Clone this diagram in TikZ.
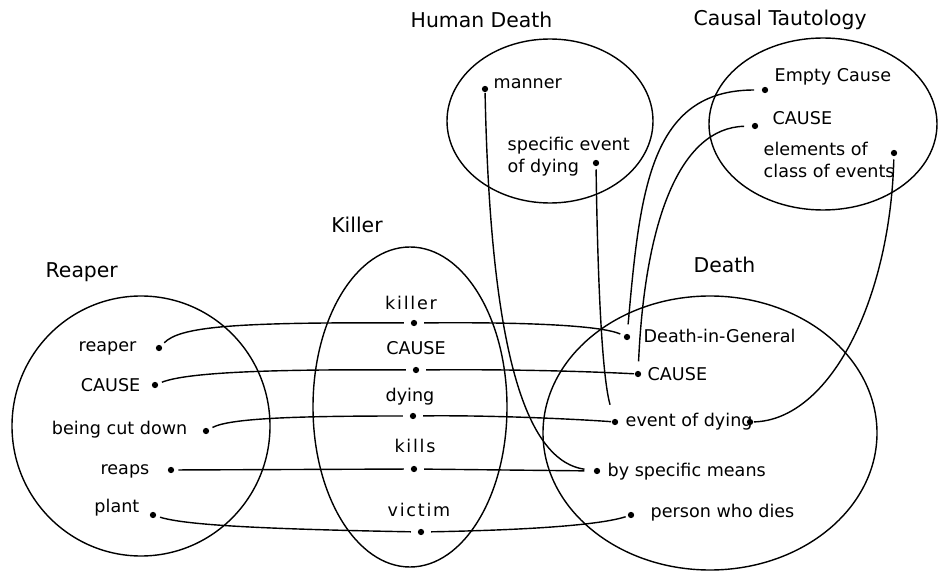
\documentclass[tikz,border=0pt]{standalone}
\usepackage{fontspec}
\setmainfont{DejaVu Sans}
\newfontfamily\spacedfont[LetterSpace=10]{DejaVu Sans}
\begin{document}
\begin{tikzpicture}[x=0.02cm, y=0.02cm, line width=0.8pt,
    dot/.style={circle, fill, inner sep=0pt, minimum size=3.6pt},
    lbl/.style={inner sep=0pt, font=\fontsize{10}{13}\selectfont},
    spaced/.style={inner sep=0pt, font=\fontsize{10}{13}\spacedfont},
    title/.style={inner sep=0pt, font=\fontsize{11.6}{14}\selectfont}]
    \useasboundingbox (0,0) rectangle (938,-571);
    % the five sets
    \draw (141,-426) ellipse (129 and 130);
    \draw (410,-407) ellipse (97 and 160);
    \draw (710,-433) ellipse (167 and 137);
    \draw (550,-121) ellipse (103 and 82);
    \draw (823,-124) ellipse (114 and 86);
    \node (tR) [title, anchor=base west] at (45,-277) {Reaper};
    \node (tK) [title, anchor=base] at (357,-233) {Killer};
    \node (tD) [title, anchor=base west] at (693,-273) {Death};
    \node (tH) [title, anchor=base west] at (410,-28) {Human Death};
    \node (tC) [title, anchor=base west] at (693,-26) {Causal Tautology};
    % elements
    \node (R1) [dot] at (159,-348) {};
    \node (R2) [dot] at (155,-385) {};
    \node (R3) [dot] at (206,-431) {};
    \node (R4) [dot] at (171,-470) {};
    \node (R5) [dot] at (153,-515) {};
    \node (K1) [dot] at (414,-323) {};
    \node (K2) [dot] at (416,-370) {};
    \node (K3) [dot] at (413,-416) {};
    \node (K4) [dot] at (414,-469) {};
    \node (K5) [dot] at (421,-532) {};
    \node (D1) [dot] at (627,-337) {};
    \node (D2) [dot] at (638,-374) {};
    \node (D3) [dot] at (615,-422) {};
    \node (D4) [dot] at (750,-422) {};
    \node (D5) [dot] at (597,-471) {};
    \node (D6) [dot] at (631,-515) {};
    \node (H1) [dot] at (485,-89) {};
    \node (H2) [dot] at (596,-163) {};
    \node (C1) [dot] at (765,-90) {};
    \node (C2) [dot] at (755,-126) {};
    \node (C3) [dot] at (894,-153) {};
    % labels
    \node (lR1) [lbl, anchor=base east] at (137,-352) {reaper};
    \node (lR2) [lbl, anchor=base east] at (141,-392) {CAUSE};
    \node (lR3) [lbl, anchor=base east] at (188,-435) {being cut down};
    \node (lR4) [lbl, anchor=base east] at (150,-475) {reaps};
    \node (lR5) [lbl, anchor=base east] at (140,-513) {plant};
    \node (lK1) [spaced, anchor=base] at (411,-310) {killer};
    \node (lK2) [lbl, anchor=base] at (416,-355) {CAUSE};
    \node (lK3) [lbl, anchor=base] at (410,-401) {dying};
    \node (lK4) [spaced, anchor=base] at (415,-453) {kills};
    \node (lK5) [spaced, anchor=base] at (419,-517) {victim};
    \node (lD1) [lbl, anchor=base west] at (643,-343) {Death-in-General};
    \node (lD2) [lbl, anchor=base west] at (647,-380) {CAUSE};
    \node (lD3) [lbl, anchor=base west] at (625,-426) {event of dying};
    \node (lD5) [lbl, anchor=base west] at (607,-477) {by specific means};
    \node (lD6) [lbl, anchor=base west] at (650,-518) {person who dies};
    \node (lH1) [lbl, anchor=base west] at (493,-89) {manner};
    \node (lH2) [lbl, anchor=base west, align=left] at (507,-173) {specific event\\of dying};
    \node (lC1) [lbl, anchor=base west] at (774,-82) {Empty Cause};
    \node (lC2) [lbl, anchor=base west] at (772,-125) {CAUSE};
    \node (lC3) [lbl, anchor=base west, align=left] at (763,-178) {elements of\\class of events};
    % mappings through Killer
    \draw [shorten <=2pt, shorten >=3.5pt] (R1) .. controls (180,-327) and (230,-322) .. (K1);
    \draw [shorten <=3.5pt, shorten >=2pt] (K1) .. controls (520,-322) and (600,-325) .. (D1);
    \draw [shorten <=2pt, shorten >=3.5pt] (R2) .. controls (185,-373) and (260,-369) .. (K2);
    \draw [shorten <=3.5pt] (K2) .. controls (520,-369) and (600,-372) .. (D2);
    \draw [shorten <=2pt, shorten >=3.5pt] (R3) .. controls (230,-418) and (300,-416) .. (K3);
    \draw [shorten <=3.5pt] (K3) .. controls (500,-415) and (590,-420) .. (D3);
    \draw [shorten <=2pt, shorten >=3.5pt] (R4) -- (K4);
    \draw [shorten <=3.5pt, shorten >=5pt] (K4) -- (D5);
    \draw [shorten <=2pt, shorten >=3.5pt] (R5) .. controls (185,-525) and (260,-529) .. (K5);
    \draw [shorten <=3.5pt, shorten >=1pt] (K5) .. controls (530,-530) and (600,-525) .. (D6);
    % mappings from Human Death
    \draw [shorten >=5pt] (H1) .. controls (490,-330) and (520,-460) .. (D5);
    \draw [shorten <=1.5pt, shorten >=8pt] (H2) .. controls (598,-300) and (603,-380) .. (D3);
    % mappings from Causal Tautology
    \draw [shorten <=4pt, shorten >=5pt] (C1) .. controls (650,-90) and (640,-190) .. (D1);
    \draw [shorten <=4pt, shorten >=5pt] (C2) .. controls (680,-128) and (645,-220) .. (D2);
    \draw [shorten <=1.5pt] (C3) .. controls (890,-300) and (830,-420) .. (D4);
\end{tikzpicture}
\end{document}
